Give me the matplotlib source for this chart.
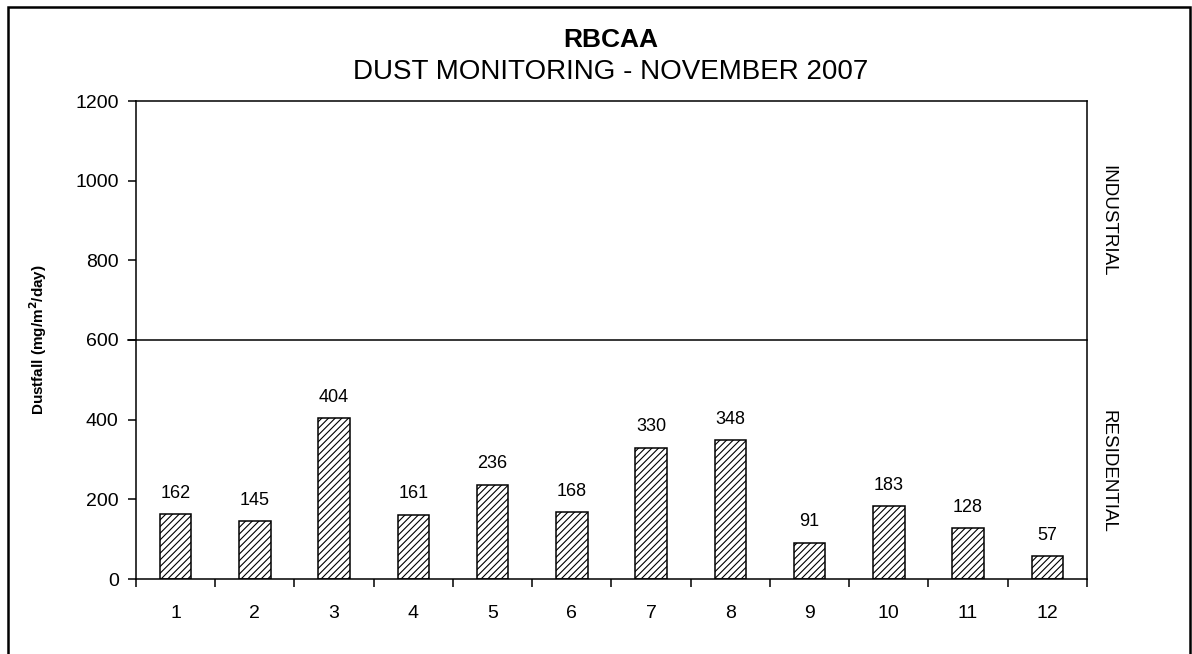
import numpy as np
import matplotlib.pyplot as plt
from matplotlib.patches import Rectangle

plt.rcParams['font.family'] = ['Liberation Sans', 'DejaVu Sans']
plt.rcParams['hatch.linewidth'] = 0.8

# data
sites = ['1', '2', '3', '4', '5', '6', '7', '8', '9', '10', '11', '12']
dustfall = [162, 145, 404, 161, 236, 168, 330, 348, 91, 183, 128, 57]
y_ticks = [0, 200, 400, 600, 800, 1000, 1200]
limit = 600

fig = plt.figure(figsize=(11.92, 6.54), dpi=100)
ax = fig.add_axes([136 / 1192, 1 - 579 / 654, (1087 - 136) / 1192, (579 - 101) / 654])

x = np.arange(1, len(sites) + 1)
bars = ax.bar(x, dustfall, width=0.4, color='white', edgecolor='black',
              linewidth=1.1, hatch='/////')

for xi, v in zip(x, dustfall):
    ax.annotate(str(v), (xi, v), xytext=(0, 9), textcoords='offset points',
                ha='center', va='bottom', fontsize=13)

ax.axhline(limit, color='black', lw=1.1, xmin=-0.008, xmax=1.0, clip_on=False)

ax.set_xlim(0.5, 12.5)
ax.set_ylim(0, 1200)
ax.set_yticks(y_ticks)
ax.set_xticks(x)
ax.set_xticklabels(sites)
ax.set_xticks(np.arange(0.5, 13, 1), minor=True)
ax.tick_params(axis='x', which='major', length=0, pad=19, labelsize=14)
ax.tick_params(axis='x', which='minor', length=5.5, width=1.1, direction='out')
ax.tick_params(axis='y', length=5.5, width=1.1, pad=7, labelsize=14)
for s in ax.spines.values():
    s.set_linewidth(1.1)

ax.set_ylabel(r'Dustfall (mg/m$^{\mathbf{2}}$/day)', fontsize=11, fontweight='bold',
              labelpad=0)
ax.yaxis.set_label_coords(-0.092, 0.5)

ax.text(1.022, 900, 'INDUSTRIAL', transform=ax.get_yaxis_transform(), rotation=-90,
        ha='center', va='center', fontsize=13.5)
ax.text(1.022, 270, 'RESIDENTIAL', transform=ax.get_yaxis_transform(), rotation=-90,
        ha='center', va='center', fontsize=13.5)

fig.text(611 / 1192, 1 - 40 / 654, 'RBCAA', ha='center', va='center',
         fontsize=19, fontweight='bold')
fig.text(611 / 1192, 1 - 72 / 654, 'DUST MONITORING - NOVEMBER 2007', ha='center',
         va='center', fontsize=20)

# outer frame
fig.patches.append(Rectangle((8 / 1192, -0.05), (1190 - 8) / 1192, 1.05 - 7 / 654,
                             transform=fig.transFigure, fill=False,
                             edgecolor='black', linewidth=1.8))

fig.savefig('out.png', dpi=100)
